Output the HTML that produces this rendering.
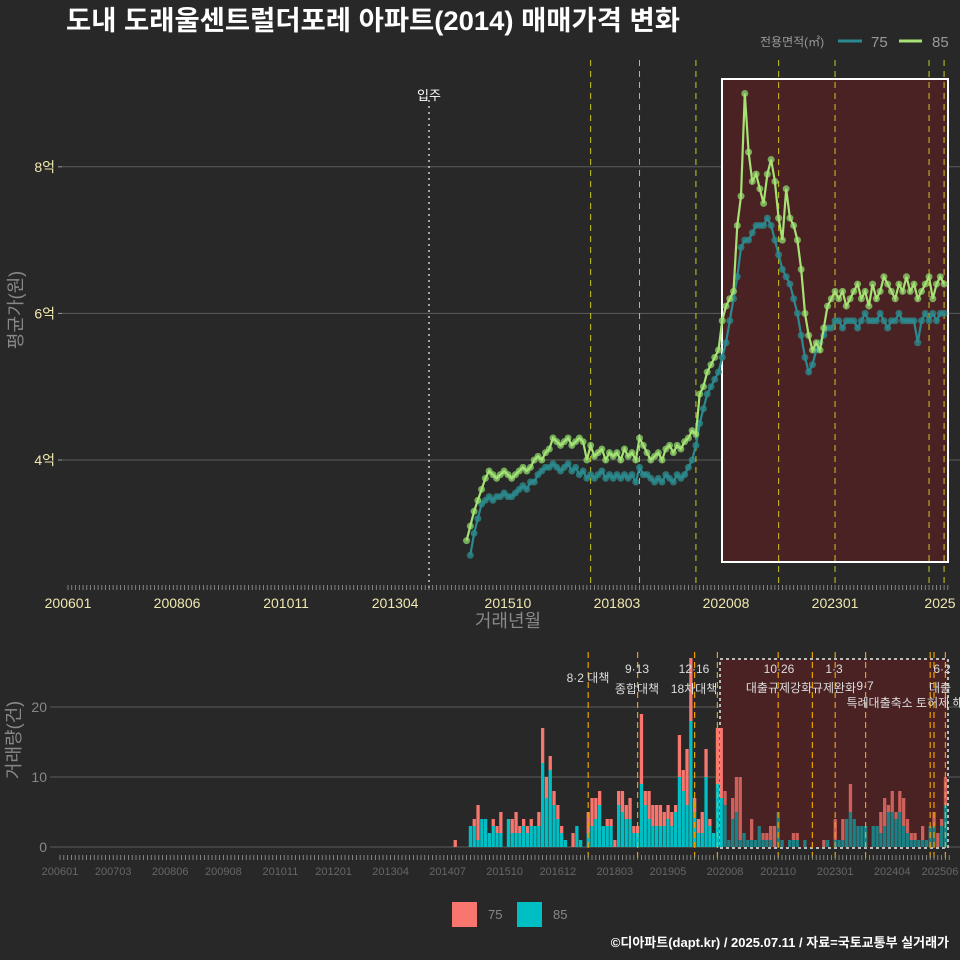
<!DOCTYPE html>
<html><head><meta charset="utf-8">
<style>
html,body{margin:0;padding:0;background:#282828;}
svg{display:block;font-family:"Liberation Sans","Noto Sans CJK KR",sans-serif;}
</style></head>
<body>
<svg id="c" width="960" height="960" viewBox="0 0 960 960">
<rect width="960" height="960" fill="#282828"/>
<text x="66" y="30" fill="#ffffff" font-size="27" font-weight="bold" textLength="614" lengthAdjust="spacingAndGlyphs">도내 도래울센트럴더포레 아파트(2014) 매매가격 변화</text>
<g>
<text x="760" y="46" fill="#999" font-size="12">전용면적(㎡)</text>
<line x1="838" y1="41" x2="862" y2="41" stroke="#2a8a90" stroke-width="3"/>
<text x="871" y="47" fill="#999" font-size="15">75</text>
<line x1="899" y1="41" x2="922" y2="41" stroke="#a6e274" stroke-width="3"/>
<text x="932" y="47" fill="#999" font-size="15">85</text>
</g>
<g id="topg"></g>
<g id="botg"></g>
<text x="949" y="947" fill="#fff" font-size="13" font-weight="bold" text-anchor="end">©디아파트(dapt.kr) / 2025.07.11 / 자료=국토교통부 실거래가</text>
</svg>
<script>
// month index m: 0 = 2006-01
const priceStart = 106;
const price85 = [2.9,3.1,3.3,3.45,3.6,3.75,3.85,3.8,3.75,3.8,3.85,3.8,3.75,3.8,3.85,3.9,3.85,3.9,4.0,4.05,4.0,4.1,4.15,4.3,4.25,4.2,4.25,4.3,4.2,4.25,4.3,4.25,4.0,4.2,4.05,4.1,4.15,4.0,4.1,4.05,4.1,4.0,4.15,4.05,4.1,4.0,4.3,4.2,4.1,4.0,4.05,4.1,4.0,4.15,4.2,4.1,4.2,4.15,4.25,4.3,4.4,4.35,4.9,5.0,5.2,5.3,5.4,5.5,5.9,6.1,6.2,6.3,7.2,7.6,9.0,8.2,7.8,7.9,7.7,7.5,7.9,8.1,7.8,7.3,7.0,7.7,7.3,7.2,7.0,6.6,6.0,5.7,5.5,5.6,5.5,5.8,6.1,6.2,6.3,6.2,6.3,6.1,6.2,6.3,6.4,6.2,6.3,6.1,6.4,6.2,6.3,6.5,6.4,6.3,6.2,6.4,6.3,6.5,6.3,6.4,6.2,6.3,6.4,6.5,6.2,6.4,6.5,6.4];
const price75 = [null,2.7,3.0,3.2,3.4,3.45,3.5,3.45,3.5,3.5,3.55,3.5,3.5,3.55,3.6,3.65,3.6,3.7,3.7,3.8,3.85,3.9,3.9,3.95,3.9,3.85,3.9,3.95,3.85,3.9,3.8,3.85,3.75,3.8,3.75,3.8,3.85,3.75,3.8,3.75,3.8,3.75,3.8,3.75,3.8,3.7,3.9,3.8,3.8,3.75,3.7,3.75,3.7,3.8,3.75,3.7,3.8,3.75,3.8,3.9,4.0,4.2,4.5,4.7,4.9,5.0,5.1,5.2,5.4,5.6,5.9,6.2,6.5,6.9,7.0,7.0,7.1,7.2,7.2,7.2,7.3,7.2,7.0,6.8,6.6,6.5,6.4,6.2,6.0,5.7,5.4,5.2,5.3,5.5,5.6,5.7,5.8,5.8,5.9,5.9,5.8,5.9,5.9,5.9,5.8,5.9,6.0,5.9,5.9,5.9,6.0,5.9,5.8,5.9,5.9,6.0,5.9,5.9,5.9,5.9,5.6,5.9,6.0,5.9,6.0,5.9,6.0,6.0];
const yTicks = [4,6,8];
const yTickLabels = ["4억","6억","8억"];
const xTickMonths = [0,29,58,87,117,146,175,204,233];
const xTickLabels = ["200601","200806","201011","201304","201510","201803","202008","202301","2025"];
const volStart = 104;
const vol85 = [0,0,0,0,3,3,1,4,4,2,3,2,2,0,4,2,2,2,3,2,3,3,3,12,7,11,6,4,2,1,0,0,3,1,0,2,3,4,6,3,3,3,0,6,5,4,4,2,2,9,6,4,3,3,3,3,4,3,5,10,8,6,18,5,2,2,10,3,2,9,7,6,1,4,5,1,2,1,1,1,3,1,1,1,0,5,1,0,1,1,1,0,1,0,0,0,0,0,1,0,1,1,1,4,5,4,3,3,3,0,3,3,2,3,5,5,4,5,3,2,1,1,1,1,1,3,3,0,3,6];
const vol75 = [1,0,0,0,0,1,5,0,0,0,1,1,3,0,0,2,3,1,1,1,1,0,2,5,3,2,2,2,1,0,0,2,0,0,0,3,4,3,2,0,1,1,1,2,3,2,3,1,1,10,2,4,3,3,3,2,2,2,1,6,3,8,9,2,2,3,4,1,0,8,10,2,0,3,5,9,0,0,3,0,0,1,1,2,3,0,0,0,0,1,1,0,0,0,0,0,0,1,0,0,3,0,3,0,4,0,0,0,0,0,0,0,3,4,1,3,1,3,4,2,1,1,0,2,0,0,2,2,1,4];
const volTicks = [0,10,20];
const volTickMonths = [0,14,29,43,58,72,87,102,117,131,146,160,175,189,204,219,233];
const volTickLabels = ["200601","200703","200806","200908","201011","201201","201304","201407","201510","201612","201803","201905","202008","202110","202301","202404","202506"];
const policyMonths = [139,152,167,173,189,198,204,212,229,230,233];
const priceLines = [139,152,167,189,204,229,233];

const NS="http://www.w3.org/2000/svg";
function mk(tag,attrs,parent,txt){const e=document.createElementNS(NS,tag);for(const k in attrs)e.setAttribute(k,attrs[k]);if(txt!==undefined)e.textContent=txt;parent.appendChild(e);return e;}
const xT = m => 68 + m*3.76;
const yT = v => 460 - (v-4)*73.3;
const xB = m => 60 + m*3.8;
const yB = v => 847 - v*7;

const topG=document.getElementById('topg');
yTicks.forEach((v,i)=>{
  const g=mk('line',{x1:62,x2:960,y1:yT(v),y2:yT(v),stroke:'#5c5c5c','stroke-width':1},topG);
  
  
  const t=mk('text',{x:55,y:yT(v)+5,fill:'#f0e8b0','font-size':14,'text-anchor':'end'},topG,yTickLabels[i]);
  
  
  const tk=mk('line',{x1:58,x2:62,y1:yT(v),y2:yT(v),stroke:'#999'},topG);
  
  
});
const sh=mk('rect',{x:722,y:79,width:226,height:483,fill:'#4a2224',stroke:'#ffffff','stroke-width':2},topG);


const mv=mk('line',{x1:429,x2:429,y1:100,y2:588,stroke:'#ccc','stroke-dasharray':'2,4','stroke-width':1.5},topG);


const mvt=mk('text',{x:429,y:100,fill:'#fff','font-size':13,'text-anchor':'middle'},topG,'입주');


priceLines.forEach(m=>{
  const l=mk('line',{x1:xT(m),x2:xT(m),y1:60,y2:588,stroke:'#c8c820','stroke-dasharray':'6,5','stroke-width':1},topG);
  
  
});
for(let m=0;m<=234;m++){
  const l=mk('line',{x1:xT(m),x2:xT(m),y1:585,y2:590,stroke:'#999','stroke-width':0.8},topG);
  
  
}
xTickMonths.forEach((m,i)=>{
  const t=mk('text',{x:Math.min(xT(m),940),y:608,fill:'#f0e8b0','font-size':14,'text-anchor':'middle'},topG,xTickLabels[i]);
  
  
});
const xa=mk('text',{x:508,y:627,fill:'#888','font-size':18,'text-anchor':'middle'},topG,'거래년월');


const ya=mk('text',{x:22,y:310,fill:'#888','font-size':18,'text-anchor':'middle',transform:'rotate(-90 22 310)'},topG,'평균가(원)');


function drawSeries(arr,col,ptcol,name){
  let d='';
  arr.forEach((v,i)=>{ if(v==null) return; const x=xT(priceStart+i), y=yT(v);
    d+=(d===''?'M':'L')+x.toFixed(1)+','+y.toFixed(1);
    const c=mk('circle',{cx:x,cy:y,r:3.5,fill:ptcol,'fill-opacity':0.75},topG);
    
    
  });
  const p=mk('path',{d:d,fill:'none',stroke:col,'stroke-width':2.2},topG);
  
  
}
drawSeries(price75,'#2a8a90','#2e8f8f','series-75');
drawSeries(price85,'#a6e274','#8fd86c','series-85');

const botG=document.getElementById('botg');
volTicks.forEach(v=>{
  const g=mk('line',{x1:50,x2:960,y1:yB(v),y2:yB(v),stroke:'#5c5c5c'},botG);
  
  
  const t=mk('text',{x:47,y:yB(v)+5,fill:'#888','font-size':14,'text-anchor':'end'},botG,String(v));
  
  
});
const sh2=mk('rect',{x:720,y:659,width:228,height:189,fill:'#4a2224',stroke:'#bbb','stroke-width':2,'stroke-dasharray':'3,3'},botG);


vol85.forEach((v85,i)=>{
  const m=volStart+i, v75=vol75[i], x=xB(m)-1.6, w=3.3;
  if(v85>0){const r=mk('rect',{x:x,y:yB(v85),width:w,height:v85*7,fill:'#00bfc4','fill-opacity':m>=175?0.6:1},botG);
    
    }
  if(v75>0){const r=mk('rect',{x:x,y:yB(v85+v75),width:w,height:v75*7,fill:'#f8766d','fill-opacity':m>=175?0.75:1},botG);
    
    }
});
policyMonths.forEach(m=>{
  const l=mk('line',{x1:xB(m),x2:xB(m),y1:652,y2:860,stroke:'#e8a000','stroke-dasharray':'6,4','stroke-width':1.2},botG);
  
  
});
for(let m=0;m<=234;m++){
  const l=mk('line',{x1:xB(m),x2:xB(m),y1:855,y2:860,stroke:'#999','stroke-width':0.8},botG);
  
  
}
volTickMonths.forEach((m,i)=>{
  const t=mk('text',{x:Math.min(xB(m),940),y:875,fill:'#666','font-size':11,'text-anchor':'middle'},botG,volTickLabels[i]);
  
  
});
const ya2=mk('text',{x:20,y:740,fill:'#888','font-size':18,'text-anchor':'middle',transform:'rotate(-90 20 740)'},botG,'거래량(건)');


const notes=[[588,682,'8·2 대책'],[637,673,'9·13'],[637,693,'종합대책'],[694,673,'12·16'],[694,693,'18차대책'],[779,673,'10·26'],[779,692,'대출규제강화'],[834,673,'1·3'],[834,692,'규제완화'],[865,690,'9·7'],[905,707,'특례대출축소 토허제 해'],[942,673,'6·2'],[940,692,'대출']];
notes.forEach(n=>{
  const t=mk('text',{x:n[0],y:n[1],fill:'#ddd','font-size':12,'text-anchor':'middle'},botG,n[2]);
  
  
});
const lg1=mk('rect',{x:452,y:902,width:25,height:25,fill:'#f8766d'},botG);


const lt1=mk('text',{x:488,y:919,fill:'#888','font-size':13},botG,'75');


const lg2=mk('rect',{x:517,y:902,width:25,height:25,fill:'#00bfc4'},botG);


const lt2=mk('text',{x:553,y:919,fill:'#888','font-size':13},botG,'85');


</script>
</body></html>
